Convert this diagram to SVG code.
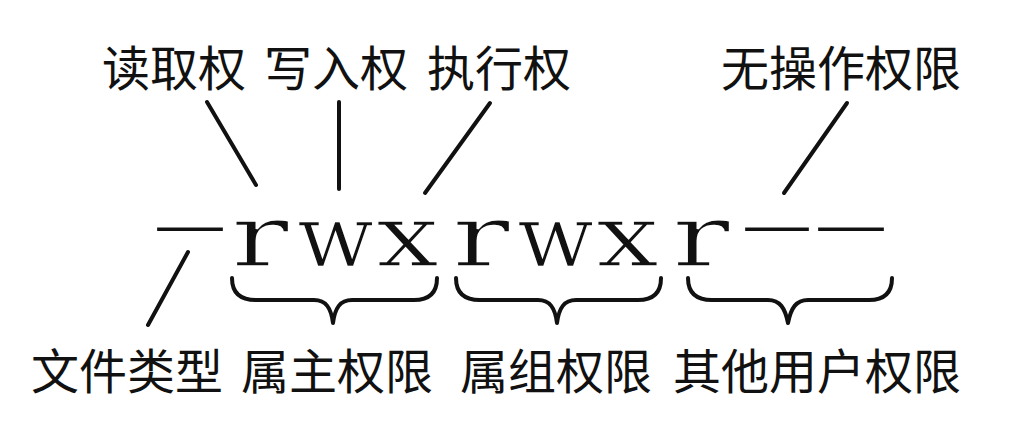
<svg xmlns="http://www.w3.org/2000/svg" width="1014" height="441" viewBox="0 0 1014 441">
<style>
.lbl{font-family:"Noto Sans CJK SC","Noto Sans",sans-serif;font-size:48px;fill:#111;text-anchor:middle}
.perm{font-family:"DejaVu Serif","Liberation Serif",serif;font-size:86px;fill:#111;stroke:#fff;stroke-width:1.6px;paint-order:normal}
.dash{font-family:"Liberation Serif",serif;font-size:70px;stroke:none}
.conn line{stroke:#111;stroke-width:4;stroke-linecap:round}
.brace{fill:none;stroke:#111;stroke-width:4;stroke-linecap:round;stroke-linejoin:round}
</style>
<rect width="1014" height="441" fill="#fff"/>
<g id="perm-string">
<text class="perm"><tspan x="158" y="246" class="dash" textLength="64" lengthAdjust="spacingAndGlyphs">–</tspan><tspan x="231" y="266" textLength="58" lengthAdjust="spacingAndGlyphs">r</tspan><tspan x="297" y="266" textLength="77" lengthAdjust="spacingAndGlyphs">w</tspan><tspan x="376" y="266" textLength="63" lengthAdjust="spacingAndGlyphs">x</tspan><tspan x="452" y="266" textLength="58" lengthAdjust="spacingAndGlyphs">r</tspan><tspan x="517" y="266" textLength="77" lengthAdjust="spacingAndGlyphs">w</tspan><tspan x="596" y="266" textLength="63" lengthAdjust="spacingAndGlyphs">x</tspan><tspan x="672" y="266" textLength="58" lengthAdjust="spacingAndGlyphs">r</tspan><tspan x="746" y="246" class="dash" textLength="62" lengthAdjust="spacingAndGlyphs">–</tspan><tspan x="819" y="246" class="dash" textLength="64" lengthAdjust="spacingAndGlyphs">–</tspan></text>
</g>
<g id="label-read"><text class="lbl" x="174" y="86">读取权</text></g>
<g id="label-write"><text class="lbl" x="336" y="86">写入权</text></g>
<g id="label-exec"><text class="lbl" x="499" y="86">执行权</text></g>
<g id="label-none"><text class="lbl" x="841" y="86">无操作权限</text></g>
<g id="label-type"><text class="lbl" x="127" y="389">文件类型</text></g>
<g id="label-owner"><text class="lbl" x="337" y="389">属主权限</text></g>
<g id="label-group"><text class="lbl" x="556" y="389">属组权限</text></g>
<g id="label-other"><text class="lbl" x="817" y="389">其他用户权限</text></g>
<g id="connectors" class="conn">
<line x1="207" y1="102" x2="256" y2="185"/>
<line x1="339" y1="102" x2="339" y2="189"/>
<line x1="490" y1="103" x2="425" y2="193"/>
<line x1="847" y1="103" x2="784" y2="193"/>
<line x1="188" y1="252" x2="148" y2="325"/>
<path class="brace" d="M232,278 C232,292 239,300 256,300 L314,300 C326,300 331,308 333,323 C335,308 340,300 352,300 L414,300 C430,300 437,292 437,278"/>
<path class="brace" d="M456,278 C456,292 463,300 480,300 L538,300 C550,300 555,308 557,323 C559,308 564,300 576,300 L638,300 C654,300 661,292 661,278"/>
<path class="brace" d="M688,278 C688,292 695,300 712,300 L768,300 C780,300 785,308 788,323 C791,308 796,300 808,300 L869,300 C885,300 892,292 892,278"/>
</g>
</svg>
